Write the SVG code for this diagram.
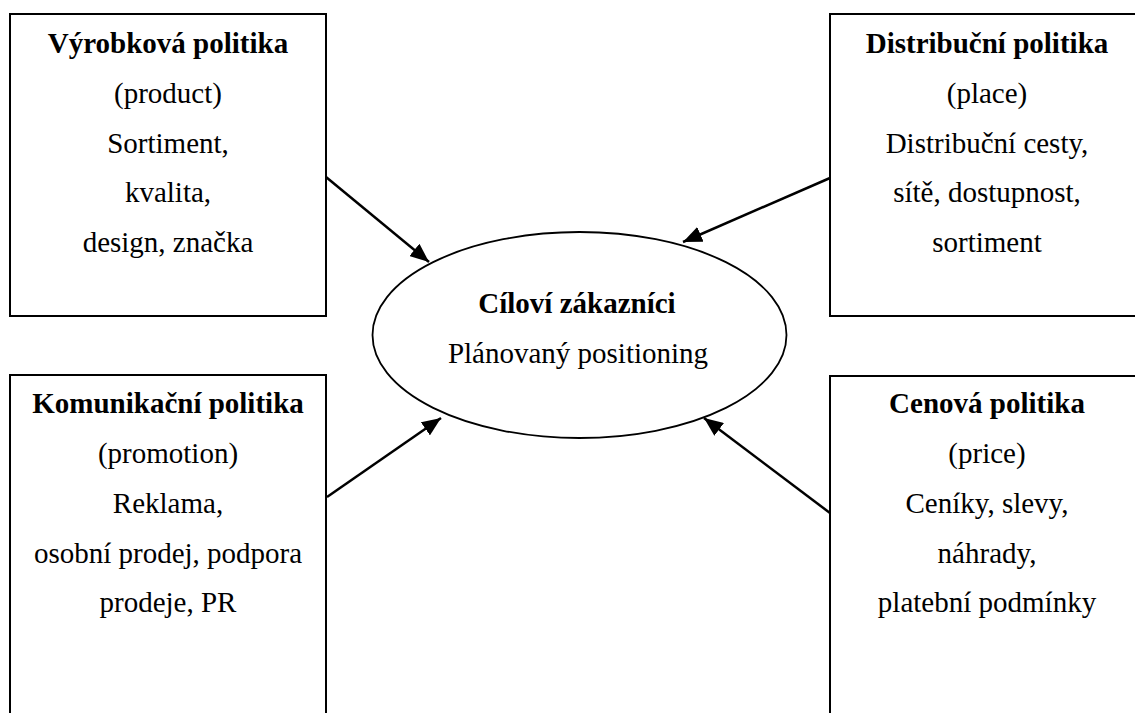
<svg xmlns="http://www.w3.org/2000/svg" width="1135" height="713" viewBox="0 0 1135 713">
<style>
.box{fill:#fff;stroke:#000;stroke-width:2}
.ell{fill:#fff;stroke:#000;stroke-width:1.8}
text{font-family:'Liberation Serif','DejaVu Serif',serif;font-size:29px;fill:#000;text-anchor:middle}
.b{font-weight:bold}
.c{stroke:#000;stroke-width:2.5;fill:none;marker-end:url(#ah)}
</style>
<defs>
<marker id="ah" markerUnits="userSpaceOnUse" markerWidth="20" markerHeight="16" refX="19" refY="8" orient="auto">
<path d="M0,0 L19,8 L0,16 Z" fill="#000"/>
</marker>
</defs>
<rect width="1135" height="713" fill="#fff"/>
<g id="product" font-family="Liberation Serif, serif">
<rect class="box" x="10" y="14" width="316" height="302"/>
<text class="b" x="168" y="53">Výrobková politika</text>
<text x="168" y="103">(product)</text>
<text x="168" y="153">Sortiment,</text>
<text x="168" y="202">kvalita,</text>
<text x="168" y="252">design, značka</text>
</g>
<g id="place">
<rect class="box" x="830" y="14" width="320" height="302"/>
<text class="b" x="987" y="53">Distribuční politika</text>
<text x="987" y="103">(place)</text>
<text x="987" y="153">Distribuční cesty,</text>
<text x="987" y="202">sítě, dostupnost,</text>
<text x="987" y="252">sortiment</text>
</g>
<g id="promotion">
<rect class="box" x="10" y="375" width="316" height="360"/>
<text class="b" x="168" y="413">Komunikační politika</text>
<text x="168" y="463">(promotion)</text>
<text x="168" y="513">Reklama,</text>
<text x="168" y="563">osobní prodej, podpora</text>
<text x="168" y="612">prodeje, PR</text>
</g>
<g id="price">
<rect class="box" x="830" y="376" width="320" height="360"/>
<text class="b" x="987" y="413">Cenová politika</text>
<text x="987" y="463">(price)</text>
<text x="987" y="513">Ceníky, slevy,</text>
<text x="987" y="563">náhrady,</text>
<text x="987" y="612">platební podmínky</text>
</g>
<g id="connectors">
<line class="c" x1="326" y1="177" x2="429" y2="262"/>
<line class="c" x1="830" y1="178" x2="683" y2="242"/>
<line class="c" x1="327" y1="497" x2="441" y2="418"/>
<line class="c" x1="830" y1="513" x2="704" y2="418"/>
</g>
<g id="customers">
<ellipse class="ell" cx="579.5" cy="335" rx="207" ry="103"/>
<text class="b" x="577" y="313">Cíloví zákazníci</text>
<text x="578" y="363">Plánovaný positioning</text>
</g>
</svg>
